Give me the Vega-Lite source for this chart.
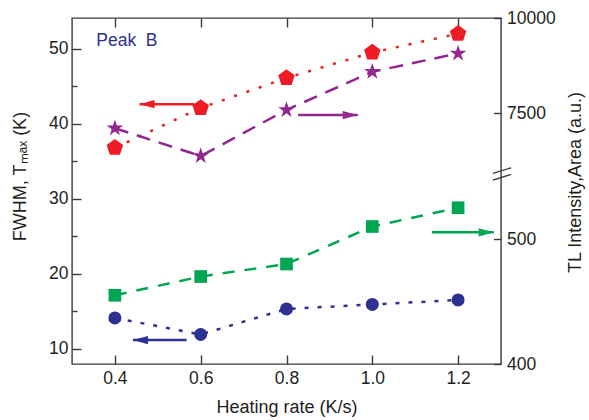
{
  "$schema": "https://vega.github.io/schema/vega-lite/v6.json",
  "width": 429,
  "height": 346,
  "autosize": {"type": "none"},
  "padding": {"left": 72, "top": 18, "right": 88, "bottom": 56},
  "background": "white",
  "config": {
    "view": {"stroke": "#3a3a3a", "strokeWidth": 1.4},
    "axis": {
      "labelFont": "Liberation Sans",
      "titleFont": "Liberation Sans",
      "labelFontSize": 17.5,
      "titleFontSize": 18,
      "labelColor": "#231f20",
      "titleColor": "#231f20",
      "titleFontWeight": "normal",
      "tickColor": "#3a3a3a",
      "tickWidth": 1.4,
      "domain": false,
      "grid": false,
      "labelFlush": false
    },
    "text": {"font": "Liberation Sans"}
  },
  "layer": [
    {
      "layer": [
        {
          "data": {"values": [
            {"rate": 0.4, "value": 36.8}, {"rate": 0.6, "value": 42.1}, {"rate": 0.8, "value": 46.1}, {"rate": 1.0, "value": 49.5}, {"rate": 1.2, "value": 52.0}
          ]},
          "mark": {"type": "line", "color": "#ed1c24", "strokeWidth": 2.5, "strokeDash": [3, 10]},
          "encoding": {
            "x": {"field": "rate", "type": "quantitative", "scale": {"domain": [0.3, 1.3], "nice": false, "zero": false},
              "axis": {"orient": "bottom", "values": [0.4, 0.6, 0.8, 1.0, 1.2], "format": ".1f", "tickSize": -9, "labelPadding": 14, "title": "Heating rate (K/s)", "titleY": 48, "titleBaseline": "alphabetic"}},
            "y": {"field": "value", "type": "quantitative", "scale": {"domain": [7.96, 54.1], "nice": false, "zero": false},
              "axis": {"orient": "left", "values": [10, 15, 20, 25, 30, 35, 40, 45, 50], "labelExpr": "datum.value % 10 === 0 ? datum.label : ''",
                "tickSize": {"condition": {"test": "datum.value % 10 === 0", "value": -9}, "value": -5},
                "labelPadding": 13, "title": "FWHM, Tₘₐₓ (K)", "titleAngle": 270, "titleX": -52, "titleY": 158, "titleAlign": "center", "titleBaseline": "middle"}}
          }
        },
        {
          "data": {"values": [
            {"rate": 0.4, "value": 36.8}, {"rate": 0.6, "value": 42.1}, {"rate": 0.8, "value": 46.1}, {"rate": 1.0, "value": 49.5}, {"rate": 1.2, "value": 52.0}
          ]},
          "mark": {"type": "point", "filled": true, "opacity": 1, "color": "#ed1c24", "size": 300, "shape": "M0,-1L0.951,-0.309L0.588,0.809L-0.588,0.809L-0.951,-0.309Z"},
          "encoding": {
            "x": {"field": "rate", "type": "quantitative"},
            "y": {"field": "value", "type": "quantitative"}
          }
        },
        {
          "data": {"values": [
            {"rate": 0.4, "value": 14.1}, {"rate": 0.6, "value": 11.9}, {"rate": 0.8, "value": 15.3}, {"rate": 1.0, "value": 15.9}, {"rate": 1.2, "value": 16.5}
          ]},
          "mark": {"type": "line", "color": "#2e3192", "strokeWidth": 2.5, "strokeDash": [4, 9]},
          "encoding": {
            "x": {"field": "rate", "type": "quantitative"},
            "y": {"field": "value", "type": "quantitative"}
          }
        },
        {
          "data": {"values": [
            {"rate": 0.4, "value": 14.1}, {"rate": 0.6, "value": 11.9}, {"rate": 0.8, "value": 15.3}, {"rate": 1.0, "value": 15.9}, {"rate": 1.2, "value": 16.5}
          ]},
          "mark": {"type": "point", "filled": true, "opacity": 1, "color": "#2e3192", "size": 170, "shape": "circle"},
          "encoding": {
            "x": {"field": "rate", "type": "quantitative"},
            "y": {"field": "value", "type": "quantitative"}
          }
        },
        {
          "data": {"values": [
            {"tail": 0.585, "tip": 0.4576, "y": 42.6, "dir": "left", "series": "red"},
            {"tail": 0.827, "tip": 0.966, "y": 41.16, "dir": "right", "series": "purple"},
            {"tail": 1.139, "tip": 1.283, "y": 25.52, "dir": "right", "series": "green"},
            {"tail": 0.567, "tip": 0.442, "y": 11.16, "dir": "left", "series": "navy"}
          ]},
          "layer": [
            {
              "mark": {"type": "rule", "strokeWidth": 2.5},
              "encoding": {
                "x": {"field": "tail", "type": "quantitative"},
                "x2": {"field": "tip"},
                "y": {"field": "y", "type": "quantitative"},
                "color": {"field": "series", "type": "nominal", "scale": {"domain": ["red", "purple", "green", "navy"], "range": ["#ed1c24", "#92278f", "#00a651", "#2e3192"]}, "legend": null}
              }
            },
            {
              "mark": {"type": "point", "filled": true, "opacity": 1, "size": 225, "strokeWidth": 0},
              "encoding": {
                "x": {"field": "tip", "type": "quantitative"},
                "y": {"field": "y", "type": "quantitative"},
                "color": {"field": "series", "type": "nominal", "legend": null},
                "shape": {"field": "dir", "type": "nominal", "scale": {"domain": ["left", "right"], "range": ["M0,0L2,-0.55L2,0.55Z", "M0,0L-2,-0.55L-2,0.55Z"]}, "legend": null}
              }
            }
          ]
        },
        {
          "data": {"values": [
            {"x1": 1.281, "x2": 1.3237, "y1": 33.39, "y2": 34.13},
            {"x1": 1.281, "x2": 1.3237, "y1": 32.49, "y2": 33.25}
          ]},
          "mark": {"type": "rule", "color": "#3a3a3a", "strokeWidth": 1.3},
          "encoding": {
            "x": {"field": "x1", "type": "quantitative"},
            "x2": {"field": "x2"},
            "y": {"field": "y1", "type": "quantitative"},
            "y2": {"field": "y2"}
          }
        },
        {
          "data": {"values": [{"x": 0.3565, "y": 50.3, "label": "Peak\u00a0\u00a0B"}]},
          "mark": {"type": "text", "align": "left", "baseline": "alphabetic", "fontSize": 17.5, "color": "#2e3192", "font": "Liberation Sans"},
          "encoding": {
            "x": {"field": "x", "type": "quantitative"},
            "y": {"field": "y", "type": "quantitative"},
            "text": {"field": "label"}
          }
        }
      ]
    },
    {
      "data": {"values": [
        {"rate": 0.4, "value": 455}, {"rate": 0.6, "value": 470}, {"rate": 0.8, "value": 480}, {"rate": 1.0, "value": 510}, {"rate": 1.2, "value": 525}
      ]},
      "encoding": {
        "x": {"field": "rate", "type": "quantitative",
          "axis": {"orient": "top", "values": [0.4, 0.6, 0.8, 1.0, 1.2], "labels": false, "tickSize": -9, "title": null}},
        "y": {"field": "value", "type": "quantitative", "scale": {"domain": [400, 676.8], "nice": false, "zero": false},
          "axis": {"orient": "right", "values": [400, 500, 600.6, 676.8], "labelExpr": "datum.value > 650 ? '10000' : (datum.value > 550 ? '7500' : datum.label)",
            "tickSize": -7.5, "labelPadding": 13, "title": "TL Intensity,Area (a.u.)", "titleAngle": 270, "titleX": 74, "titleY": 164, "titleAlign": "center", "titleBaseline": "middle"}}
      },
      "layer": [
        {"mark": {"type": "line", "color": "#00a651", "strokeWidth": 2.5, "strokeDash": [12, 10]}},
        {"mark": {"type": "point", "filled": true, "opacity": 1, "color": "#00a651", "size": 161, "shape": "square"}}
      ]
    },
    {
      "data": {"values": [
        {"rate": 0.4, "value": 7110}, {"rate": 0.6, "value": 6380}, {"rate": 0.8, "value": 7590}, {"rate": 1.0, "value": 8590}, {"rate": 1.2, "value": 9070}
      ]},
      "encoding": {
        "x": {"field": "rate", "type": "quantitative", "axis": null},
        "y": {"field": "value", "type": "quantitative", "scale": {"domain": [925, 10000], "nice": false, "zero": false}, "axis": null}
      },
      "layer": [
        {"mark": {"type": "line", "color": "#92278f", "strokeWidth": 2.5, "strokeDash": [14, 9]}},
        {"mark": {"type": "point", "filled": true, "opacity": 1, "color": "#92278f", "size": 300, "shape": "M0,-1L0.2245,-0.309L0.951,-0.309L0.363,0.118L0.588,0.809L0,0.382L-0.588,0.809L-0.363,0.118L-0.951,-0.309L-0.2245,-0.309Z"}}
      ]
    }
  ],
  "resolve": {"scale": {"y": "independent"}, "axis": {"y": "independent", "x": "independent"}}
}
